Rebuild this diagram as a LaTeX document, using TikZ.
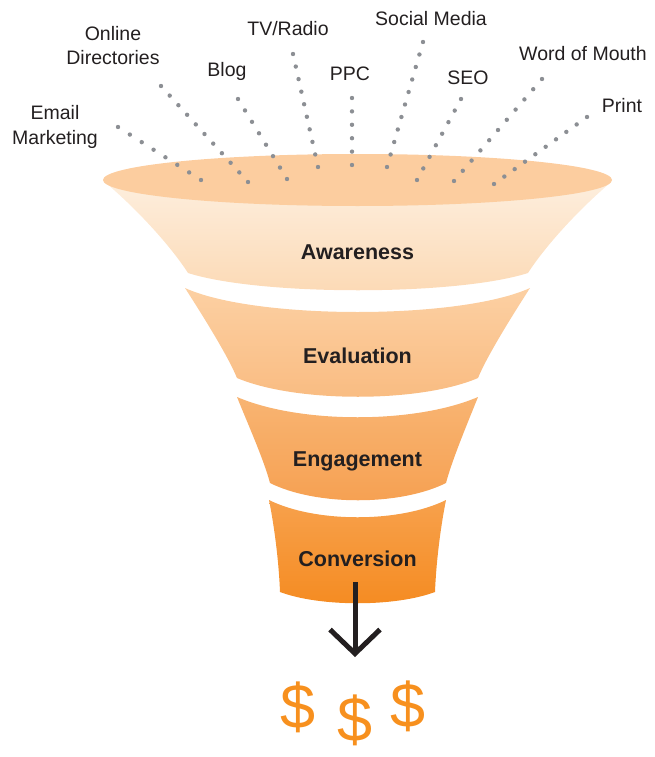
\documentclass[tikz,border=0pt]{standalone}
\usepackage{fontspec}
\setmainfont{Liberation Sans}
\usetikzlibrary{arrows.meta,calc}
\definecolor{ink}{HTML}{231F20}
\definecolor{dotgray}{HTML}{8C8F94}
\definecolor{rim}{HTML}{FCCD9F}
\definecolor{aw1}{HTML}{FDEEDD}
\definecolor{aw2}{HTML}{FCD9B4}
\definecolor{ev1}{HTML}{FCD0A3}
\definecolor{ev2}{HTML}{F9BB80}
\definecolor{en1}{HTML}{F8B472}
\definecolor{en2}{HTML}{F6A051}
\definecolor{co1}{HTML}{F7A14C}
\definecolor{co2}{HTML}{F58B21}
\definecolor{cash}{HTML}{F7901E}
% row of n+1 dots from #1 to #2
\newcommand\dotrow[3]{\foreach \k in {0,...,#3}{\fill[dotgray] ($(#1)!\k/#3!(#2)$) circle (2.2pt);}}
\begin{document}
\begin{tikzpicture}[x=1pt,y=-1pt,
    lbl/.style={text=ink,font=\fontsize{19.5}{24.5}\selectfont,align=center,inner sep=0pt,anchor=base},
    stage/.style={text=ink,font=\fontsize{21.5}{25}\selectfont\bfseries,inner sep=0pt,anchor=base},
    dollar/.style={text=cash,font=\fontsize{63}{65}\selectfont,inner sep=0pt}]
  \useasboundingbox (0,0) rectangle (654,757);

  % funnel
  \shade[top color=aw1,bottom color=aw2] (106,183) .. controls (140,212) and (172,248) .. (188,273)
        .. controls (260,296) and (456,296) .. (528,273)
        .. controls (544,248) and (576,212) .. (610,183) -- cycle;
  \fill[rim] (357.5,180) ellipse [x radius=254.5pt, y radius=26pt];
  \shade[top color=ev1,bottom color=ev2] (185,288) .. controls (255,320) and (460,320) .. (530,288)
        .. controls (512,316) and (487,356) .. (478,378)
        .. controls (420,403) and (296,403) .. (237,378)
        .. controls (228,356) and (203,316) .. (185,288) -- cycle;
  \shade[top color=en1,bottom color=en2] (237,397) .. controls (300,424) and (415,424) .. (478,397)
        .. controls (468,422) and (452,460) .. (446,483)
        .. controls (400,506) and (316,506) .. (270,483)
        .. controls (264,460) and (247,422) .. (237,397) -- cycle;
  \shade[top color=co1,bottom color=co2] (269,500) .. controls (315,523) and (400,523) .. (446,500)
        .. controls (440,530) and (436,565) .. (435,592)
        .. controls (395,607) and (320,607) .. (280,592)
        .. controls (279,565) and (275,530) .. (269,500) -- cycle;

  \node[stage] (aware) at (357.5,259) {Awareness};
  \node[stage] (eval) at (357.5,363) {Evaluation};
  \node[stage] (engage) at (357.5,466) {Engagement};
  \node[stage] (conv) at (357.5,566) {Conversion};

  % channels
  \node[lbl] (email) at (55,144) {Email\\Marketing};
  \node[lbl] (online) at (113,65) {Online\\Directories};
  \node[lbl] (blog) at (227,77) {Blog};
  \node[lbl] (tv) at (288,36) {TV/Radio};
  \node[lbl] (ppc) at (350,81) {PPC};
  \node[lbl] (social) at (431,26) {Social Media};
  \node[lbl] (seo) at (468,85) {SEO};
  \node[lbl] (word) at (583,61) {Word of Mouth};
  \node[lbl] (print) at (622,113) {Print};

  \coordinate (email-a) at (118,127);  \coordinate (email-b) at (201,180);
  \coordinate (online-a) at (161,86);  \coordinate (online-b) at (248,182);
  \coordinate (blog-a) at (238,99);    \coordinate (blog-b) at (287,179);
  \coordinate (tv-a) at (293,54);      \coordinate (tv-b) at (318,167);
  \coordinate (ppc-a) at (352,98);     \coordinate (ppc-b) at (352,165);
  \coordinate (social-a) at (423,42);  \coordinate (social-b) at (387,167);
  \coordinate (seo-a) at (461,99);     \coordinate (seo-b) at (417,180);
  \coordinate (word-a) at (542,79);    \coordinate (word-b) at (454,181);
  \coordinate (print-a) at (587,117);  \coordinate (print-b) at (494,184);
  \dotrow{email-a}{email-b}{7}
  \dotrow{online-a}{online-b}{10}
  \dotrow{blog-a}{blog-b}{7}
  \dotrow{tv-a}{tv-b}{9}
  \dotrow{ppc-a}{ppc-b}{5}
  \dotrow{social-a}{social-b}{10}
  \dotrow{seo-a}{seo-b}{7}
  \dotrow{word-a}{word-b}{10}
  \dotrow{print-a}{print-b}{9}

  % output
  \coordinate (flowtop) at (355,582);
  \coordinate (flowtip) at (355,657);
  \draw[ink,line width=5pt,-{Straight Barb[length=24pt,width=50pt]}] (flowtop) -- (flowtip);
  \node[dollar] (cash1) at (298,707) {\$};
  \node[dollar] (cash2) at (355,720) {\$};
  \node[dollar] (cash3) at (408,706) {\$};
\end{tikzpicture}
\end{document}
